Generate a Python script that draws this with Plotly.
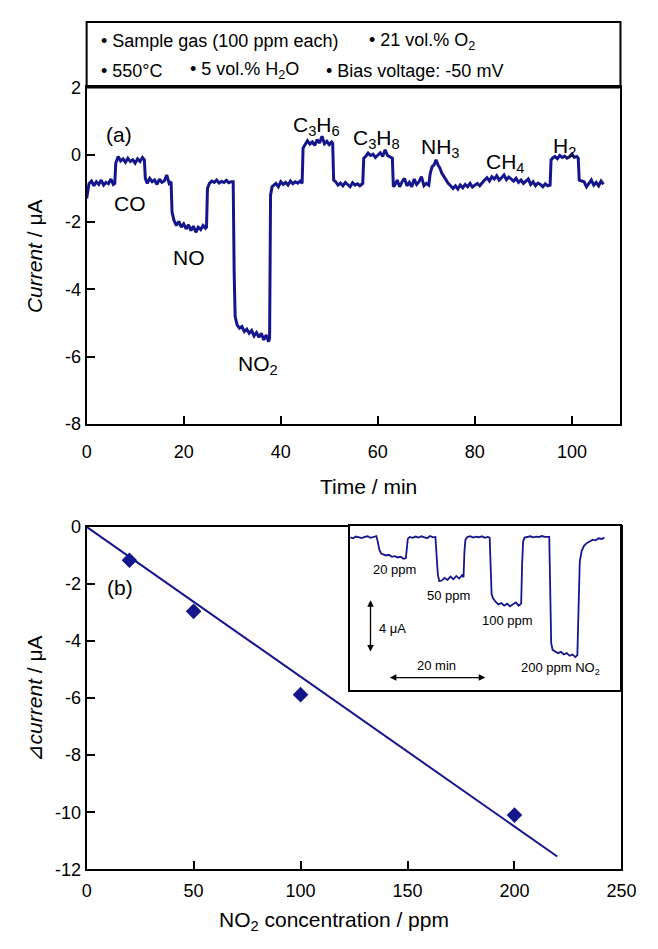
import plotly.graph_objects as go

# ---------------- Panel (a): sensor current vs time ----------------
time_min = [
    0, 0.5, 1, 1.5, 2, 2.5, 3, 3.5, 4, 4.5, 5, 5.5, 5.8, 5.9,
    6.0, 6.5, 7, 7.5, 8, 8.5, 9, 9.5, 10, 10.5, 11, 11.5, 11.9, 12.1,
    12.5, 13, 13.5, 14, 14.5, 15, 15.5, 16, 16.5, 17, 17.4, 17.6,
    18, 18.5, 19, 19.5, 20, 20.5, 21, 21.5, 22, 22.5, 23, 23.5, 24, 24.5, 24.7, 24.9,
    25.3, 25.8, 26.3, 26.8, 27.3, 27.8, 28.3, 28.8, 29.3, 29.8, 30.2, 30.4, 30.6,
    31, 31.5, 32, 32.5, 33, 33.5, 34, 34.5, 35, 35.5, 36, 36.5, 37, 37.5, 37.7, 37.9, 38.2,
    38.5, 39, 39.5, 40, 40.5, 41, 41.5, 42, 42.5, 43, 43.5, 44, 44.4, 44.6,
    45, 45.5, 46, 46.5, 47, 47.5, 48, 48.5, 49, 49.5, 50, 50.5, 50.7, 50.9,
    51.3, 51.8, 52.3, 52.8, 53.3, 53.8, 54.3, 54.8, 55.3, 55.8, 56.3, 56.9, 57.1,
    57.5, 58, 58.5, 59, 59.5, 60, 60.5, 61, 61.5, 62, 62.5, 63.0, 63.2,
    63.5, 64, 64.5, 65, 65.5, 66, 66.5, 67, 67.5, 68, 68.5, 69, 69.5, 70, 70.5,
    70.8, 71.2, 71.6, 72.0, 72.4, 72.8, 73.2, 73.6, 74.0, 74.5, 75.0,
    75.5, 76, 76.5, 77, 77.5, 78, 78.5, 79, 79.5, 80, 80.5, 81,
    81.5, 82, 82.5, 83, 83.5, 84, 84.5, 85, 85.5, 86, 86.5, 87, 87.5, 88, 88.5,
    89, 89.5, 90, 90.5, 91, 91.5, 92, 92.5, 93, 93.5, 94, 94.5, 95, 95.5, 95.7,
    96, 96.5, 97, 97.5, 98, 98.5, 99, 99.5, 100, 100.5, 101, 101.3, 101.5,
    102, 102.5, 103, 103.5, 104, 104.5, 105, 105.5, 106, 106.5,
]
current_uA = [
    -1.30, -0.85, -0.78, -0.92, -0.80, -0.88, -0.75, -0.90, -0.82, -0.86, -0.72, -0.88, -0.85, -0.30,
    -0.25, -0.05, -0.18, -0.12, -0.22, -0.10, -0.20, -0.15, -0.25, -0.12, -0.20, -0.08, -0.15, -0.70,
    -0.85, -0.70, -0.80, -0.75, -0.88, -0.72, -0.82, -0.78, -0.60, -0.85, -0.80, -1.70,
    -1.95, -2.10, -1.98, -2.15, -2.05, -2.20, -2.08, -2.25, -2.12, -2.30, -2.15, -2.22, -2.10, -2.18, -2.15, -1.00,
    -0.85, -0.78, -0.82, -0.75, -0.84, -0.79, -0.82, -0.76, -0.83, -0.80, -0.80, -3.50, -4.80,
    -5.05, -5.15, -5.10, -5.25, -5.18, -5.30, -5.22, -5.38, -5.28, -5.42, -5.30, -5.50, -5.35, -5.55, -5.45, -1.20, -0.95,
    -0.92, -0.85, -0.95, -0.80, -0.88, -0.82, -0.90, -0.78, -0.86, -0.80, -0.84, -0.78, -0.85, 0.20,
    0.30, 0.42, 0.32, 0.38, 0.28, 0.45, 0.35, 0.55, 0.33, 0.40, 0.30, 0.38, 0.35, -0.75,
    -0.80, -0.90, -0.84, -0.92, -0.82, -0.88, -0.95, -0.83, -0.90, -0.86, -0.92, -0.85, -0.10,
    -0.05, 0.05, -0.02, 0.02, -0.08, 0.00, 0.06, -0.05, 0.15, -0.02, -0.06, -0.10, -0.95,
    -0.90, -0.75, -0.95, -0.80, -0.70, -0.92, -0.82, -0.95, -0.72, -0.88, -0.80, -0.65, -0.92, -0.85, -0.90,
    -0.55, -0.35, -0.30, -0.15, -0.30, -0.40, -0.55, -0.65, -0.72, -0.85, -0.92,
    -1.00, -0.92, -1.02, -0.90, -0.98, -0.88, -0.95, -0.85, -0.96, -0.90, -0.85, -0.92,
    -0.82, -0.75, -0.68, -0.78, -0.65, -0.72, -0.62, -0.75, -0.68, -0.60, -0.74, -0.66, -0.72, -0.78, -0.70,
    -0.82, -0.75, -0.85, -0.78, -0.72, -0.88, -0.80, -0.92, -0.84, -0.88, -0.95, -0.86, -0.92, -0.90, -0.15,
    -0.10, -0.05, -0.12, -0.02, -0.08, -0.04, -0.10, -0.06, 0.02, -0.08, -0.05, -0.10, -0.75,
    -0.78, -0.80, -0.95, -0.85, -0.75, -0.90, -0.82, -0.92, -0.78, -0.88,
]
gas_labels = ["CO", "NO", "NO<sub>2</sub>", "C<sub>3</sub>H<sub>6</sub>", "C<sub>3</sub>H<sub>8</sub>",
              "NH<sub>3</sub>", "CH<sub>4</sub>", "H<sub>2</sub>"]
time_ticks = [0, 20, 40, 60, 80, 100]
current_ticks = [-8, -6, -4, -2, 0, 2]

# ---------------- Panel (b): delta current vs NO2 concentration ----------------
no2_ppm = [20, 50, 100, 200]
delta_current_uA = [-1.17, -2.96, -5.88, -10.1]
fit_ppm = [0, 220]
fit_uA = [0, -11.55]
conc_ticks = [0, 50, 100, 150, 200, 250]
delta_ticks = [-12, -10, -8, -6, -4, -2, 0]

# ---------------- Inset: NO2 response transient ----------------
inset_time_min = [
    0, 0.6, 1.2, 1.8, 2.4, 3.0, 3.6, 4.2, 4.8, 5.4, 5.7, 6.0, 6.4,
    6.8, 7.4, 8.0, 8.6, 9.2, 9.8, 10.4, 11.0, 11.5, 11.7, 11.9,
    12.3, 12.9, 13.5, 14.1, 14.7, 15.3, 15.9, 16.5, 17.1, 17.6, 17.9, 18.1, 18.4,
    18.9, 19.5, 20.1, 20.7, 21.3, 21.9, 22.5, 23.1, 23.4, 23.6, 23.8,
    24.2, 24.8, 25.4, 26.0, 26.6, 27.2, 27.8, 28.4, 28.8, 29.0, 29.2, 29.5,
    30.0, 30.6, 31.2, 31.8, 32.4, 33.0, 33.6, 34.2, 34.8, 35.3, 35.5, 35.7, 36.0,
    36.6, 37.2, 37.8, 38.4, 39.0, 39.6, 40.2, 40.8, 41.1, 41.3, 41.5, 41.8,
    42.3, 42.9, 43.5, 44.1, 44.7, 45.3, 45.9, 46.5, 46.9, 47.2, 47.4, 47.8,
    48.3, 48.9, 49.5, 50.1, 50.7, 51.3, 51.9, 52.5,
]
inset_current_uA = [
    0.02, -0.05, 0.08, 0.00, -0.03, 0.06, 0.10, -0.02, 0.05, 0.12, -0.30, -0.90, -1.20,
    -1.25, -1.35, -1.30, -1.45, -1.40, -1.50, -1.45, -1.60, -1.55, -0.60, -0.10,
    0.05, -0.02, 0.08, 0.00, 0.10, 0.03, -0.05, 0.12, 0.02, 0.05, -1.50, -2.80, -3.30,
    -3.25, -3.05, -3.20, -2.95, -3.15, -2.90, -3.10, -2.85, -3.00, -1.00, -0.15,
    0.05, 0.10, 0.00, 0.08, 0.03, 0.10, -0.02, 0.05, 0.00, -2.50, -4.30, -4.60,
    -4.85, -5.05, -4.95, -5.15, -5.00, -5.20, -5.05, -4.90, -5.15, -5.00, -2.00, -0.30, 0.00,
    0.05, 0.10, 0.02, 0.08, 0.05, 0.12, 0.05, 0.08, 0.05, -4.00, -8.00, -8.50,
    -8.60, -8.75, -8.65, -8.85, -8.75, -8.95, -8.85, -9.05, -8.90, -3.00, -1.80, -1.00,
    -0.60, -0.40, -0.30, -0.15, -0.20, -0.05, -0.10, 0.00,
]
inset_labels = ["20 ppm", "50 ppm", "100 ppm", "200 ppm NO<sub>2</sub>"]

# ---------------- Styling / layout helpers ----------------
PAGE_MARGIN = 8                      # default body margin of the written page
W, H = 658 - 2 * PAGE_MARGIN, 949 - 2 * PAGE_MARGIN   # figure fits the window exactly
BLUE = "#16168c"
FONT = "Liberation Sans, Arial, Helvetica, sans-serif"


def px(x):
    return (x - PAGE_MARGIN) / W


def py(y):
    return 1 - (y - PAGE_MARGIN) / H


def tick_text(vals):
    return [str(v) for v in vals]  # plain hyphen-minus like the original


fig = go.Figure()

fig.add_trace(go.Scatter(x=time_min, y=current_uA, mode="lines",
                         line=dict(color=BLUE, width=3), xaxis="x", yaxis="y",
                         showlegend=False, hoverinfo="skip"))

fig.add_trace(go.Scatter(x=fit_ppm, y=fit_uA, mode="lines",
                         line=dict(color=BLUE, width=2), xaxis="x2", yaxis="y2",
                         showlegend=False, hoverinfo="skip"))
fig.add_trace(go.Scatter(x=no2_ppm, y=delta_current_uA, mode="markers",
                         marker=dict(symbol="diamond", size=12, color=BLUE),
                         xaxis="x2", yaxis="y2", showlegend=False, hoverinfo="skip"))

fig.add_trace(go.Scatter(x=inset_time_min, y=inset_current_uA, mode="lines",
                         line=dict(color=BLUE, width=1.8), xaxis="x3", yaxis="y3",
                         showlegend=False, hoverinfo="skip"))

axis_common = dict(showline=True, linecolor="black", linewidth=2, mirror=True,
                   ticks="inside", ticklen=8, tickwidth=1.5, tickcolor="black",
                   showgrid=False, zeroline=False, tickmode="array",
                   ticklabeloverflow="allow",
                   tickfont=dict(family=FONT, size=18, color="black"))

fig.update_layout(
    width=W, height=H, autosize=False,
    margin=dict(l=0, r=0, t=0, b=0),
    paper_bgcolor="white", plot_bgcolor="white",
    font=dict(family=FONT, color="black"),
    xaxis=dict(domain=[px(84), px(635)], range=[0, 110], anchor="y", ticklabelstandoff=10,
               tickvals=time_ticks, ticktext=tick_text(time_ticks), **axis_common),
    yaxis=dict(domain=[py(423), py(79)], range=[-8, 2], anchor="x",
               tickvals=current_ticks, ticktext=tick_text(current_ticks), **axis_common),
    xaxis2=dict(domain=[px(84), px(636)], range=[0, 250], anchor="y2", ticklabelstandoff=4,
                tickvals=conc_ticks, ticktext=tick_text(conc_ticks), **axis_common),
    yaxis2=dict(domain=[py(878), py(528)], range=[-12, 0], anchor="x2",
                tickvals=delta_ticks, ticktext=tick_text(delta_ticks), **axis_common),
    xaxis3=dict(domain=[px(356), px(635)], range=[0, 55.8], anchor="y3", showline=True,
                linecolor="black", linewidth=1.5, mirror=True, showticklabels=False,
                ticks="", showgrid=False, zeroline=False),
    yaxis3=dict(domain=[py(695), py(527)], range=[-11.56, 0.89], anchor="x3", showline=True,
                linecolor="black", linewidth=1.5, mirror=True, showticklabels=False,
                ticks="", showgrid=False, zeroline=False),
)

# Condition box above panel (a)
fig.add_shape(type="rect", xref="paper", yref="paper",
              x0=px(84), x1=px(635), y0=py(79), y1=py(12),
              line=dict(color="black", width=2), fillcolor="rgba(0,0,0,0)")

ann = []


def text(x, y, s, size=18, xanchor="center", angle=0):
    ann.append(dict(x=px(x), y=py(y), xref="paper", yref="paper", text=s, showarrow=False,
                    xanchor=xanchor, yanchor="middle", textangle=angle,
                    font=dict(family=FONT, size=size, color="black")))


# condition box texts
text(97, 32, "• Sample gas (100 ppm each)", 18, "left")
text(373, 32, "• 21 vol.% O<sub>2</sub>", 18, "left")
text(97, 62, "• 550°C", 18, "left")
text(189, 62, "• 5 vol.% H<sub>2</sub>O", 18, "left")
text(329, 62, "• Bias voltage: -50 mV", 18, "left")

# panel (a) labels
text(117, 127, "(a)", 21)
gas_label_px = [(129, 198), (190, 253), (261, 363), (321, 118), (383, 132),
                (449, 141), (516, 156), (577, 140)]
for lab, (gx, gy) in zip(gas_labels, gas_label_px):
    text(gx, gy, lab, 21)

# axis titles
text(30, 251, "<i>Current</i> / μA", 21, angle=-90)
text(375, 487, "Time / min", 21)
text(30, 704, "⊿<i>current</i> / μA", 21, angle=-90)
text(339, 931, "NO<sub>2</sub> concentration / ppm", 21)

# panel (b)
text(118, 590, "(b)", 21)

# inset texts
inset_label_px = [(402, 572), (458, 598), (518, 624), (573, 673)]
for lab, (lx, ly) in zip(inset_labels, inset_label_px):
    text(lx, ly, lab, 13)
text(400, 632, "4 μA", 13)
text(445, 670, "20 min", 13)

# scale arrows in inset (data coordinates of the inset)
ann.append(dict(x=4.2, y=-4.74, ax=4.2, ay=-8.74, xref="x3", yref="y3", axref="x3", ayref="y3",
                text="", showarrow=True, arrowhead=2, arrowside="end+start",
                arrowsize=1, arrowwidth=1.3, arrowcolor="black"))
ann.append(dict(x=8.2, y=-10.6, ax=28.2, ay=-10.6, xref="x3", yref="y3", axref="x3", ayref="y3",
                text="", showarrow=True, arrowhead=2, arrowside="end+start",
                arrowsize=1, arrowwidth=1.3, arrowcolor="black"))

fig.update_layout(annotations=ann)

fig.write_html("out.html", config={"displayModeBar": False})
